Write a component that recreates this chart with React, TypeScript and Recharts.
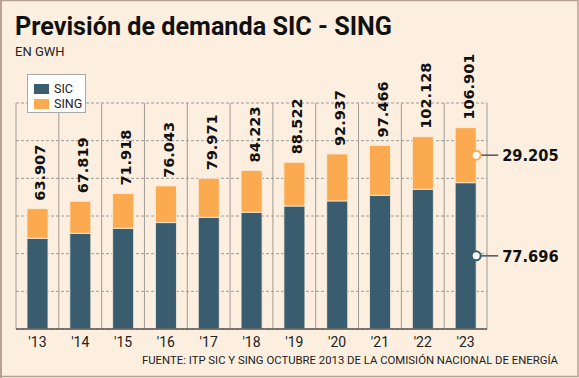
import React from 'react';
import { BarChart, Bar, XAxis, YAxis, CartesianGrid, LabelList } from 'recharts';

const years = ["'13", "'14", "'15", "'16", "'17", "'18", "'19", "'20", "'21", "'22", "'23"];
const sicValues = [48.2, 50.8, 53.5, 56.5, 59.3, 62.0, 65.3, 68.0, 71.0, 74.2, 77.696];
const singValues = [15.7, 17.0, 18.4, 19.5, 20.7, 22.2, 23.2, 24.9, 26.5, 27.9, 29.205];
const totalLabels = ['63.907', '67.819', '71.918', '76.043', '79.971', '84.223', '88.522', '92.937', '97.466', '102.128', '106.901'];
const sicNote = '77.696';
const singNote = '29.205';
const yTicks = [0, 20, 40, 60, 80, 100, 120];

const SIC_COLOR = '#395D6E';
const SING_COLOR = '#FBAA50';
const BG = '#FCEFDF';
const BORDER = '#b5a295';

const series = [
    { name: 'SIC', color: SIC_COLOR },
    { name: 'SING', color: SING_COLOR },
];

const last = years.length - 1;
const data = years.map((year, i) => ({
    year,
    sic: sicValues[i],
    sing: singValues[i],
    totalLabel: totalLabels[i],
    sicNote: i === last ? sicNote : undefined,
    singNote: i === last ? singNote : undefined,
}));

// total above each stacked bar, rotated to read upwards
const TotalLabel = (props: any) => {
    const { x, y, width, value } = props;
    if (value == null) return null;
    const lx = x + width / 2 + 8;
    const ly = y - 8;
    return (
        <text
            x={lx}
            y={ly}
            transform={`rotate(-90 ${lx} ${ly})`}
            textAnchor="start"
            fontFamily="'DejaVu Sans', sans-serif"
            fontWeight="bold"
            fontSize={14.5}
            fill="#111"
        >
            {value}
        </text>
    );
};

// callout on the right side of the last bar
const makeNote = (color: string) => (props: any) => {
    const { x, y, width, height, value } = props;
    if (value == null) return null;
    const cx = x + width;
    const cy = y + height / 2;
    return (
        <g>
            <line x1={cx} y1={cy} x2={cx + 22} y2={cy} stroke="#555" strokeWidth={1.5} />
            <circle cx={cx} cy={cy} r={4.5} fill="#fff" stroke={color} strokeWidth={2} />
            <text
                x={cx + 26}
                y={cy + 6}
                fontFamily="'DejaVu Sans Condensed', 'DejaVu Sans', sans-serif"
                fontWeight="bold"
                fontSize={16.3}
                fill="#111"
            >
                {value}
            </text>
        </g>
    );
};

const bandLines = ({ offset }: any) => {
    const n = years.length;
    const pts: number[] = [];
    for (let i = 0; i <= n; i++) pts.push(offset.left + (i * offset.width) / n);
    return pts;
};

const Legend = () => (
    <div
        style={{
            position: 'absolute',
            left: 27,
            top: 74,
            width: 59,
            height: 39,
            boxSizing: 'border-box',
            background: '#fff',
            border: '1px solid #a9a9a9',
            padding: '6px 0 0 6px',
            fontFamily: 'Roboto, sans-serif',
            fontSize: 12.5,
            color: '#222',
        }}
    >
        {series.map((s) => (
            <div key={s.name} style={{ display: 'flex', alignItems: 'center', height: 15 }}>
                <span style={{ width: 15, height: 10, background: s.color, marginRight: 5 }} />
                {s.name}
            </div>
        ))}
    </div>
);

export default function App() {
    return (
        <div
            style={{
                position: 'absolute',
                left: 0,
                top: 0,
                width: 579,
                height: 378,
                background: BG,
                overflow: 'hidden',
            }}
        >
            <div style={{ position: 'absolute', left: 0, top: 0 }}>
                <BarChart
                    width={579}
                    height={378}
                    data={data}
                    margin={{ top: 103, right: 92, bottom: 29, left: 16 }}
                    barSize={21}
                >
                    <CartesianGrid horizontal vertical={false} stroke="#9a9a9a" strokeDasharray="3 2" fill="none" />
                    <CartesianGrid
                        horizontal={false}
                        vertical
                        verticalCoordinatesGenerator={bandLines}
                        stroke="#a09a94"
                        fill="none"
                    />
                    <YAxis hide domain={[0, 120]} ticks={yTicks} />
                    <XAxis
                        dataKey="year"
                        height={20}
                        tickLine={false}
                        axisLine={{ stroke: '#555', strokeWidth: 1.5 }}
                        interval={0}
                        tick={{ fill: '#222', fontSize: 14, fontFamily: 'Roboto, sans-serif' }}
                    />
                    <Bar dataKey="sic" stackId="a" fill={SIC_COLOR} stroke={BG} strokeWidth={0.8} isAnimationActive={false}>
                        <LabelList dataKey="sicNote" content={makeNote(SIC_COLOR)} />
                    </Bar>
                    <Bar dataKey="sing" stackId="a" fill={SING_COLOR} stroke={BG} strokeWidth={0.8} isAnimationActive={false}>
                        <LabelList dataKey="totalLabel" content={TotalLabel} />
                        <LabelList dataKey="singNote" content={makeNote(SING_COLOR)} />
                    </Bar>
                </BarChart>
            </div>
            <svg width={579} height={378} style={{ position: 'absolute', left: 0, top: 0, pointerEvents: 'none' }}>
                <rect x={1} y={0.5} width={577} height={376} fill="none" stroke={BORDER} strokeWidth={1.5} />
                <line x1={1} y1={0} x2={1} y2={378} stroke={BORDER} strokeWidth={2} />
                <text x={15} y={35} fontFamily="Roboto, sans-serif" fontWeight="bold" fontSize={25} fill="#111" textLength={377} lengthAdjust="spacingAndGlyphs">
                    Previsión de demanda SIC - SING
                </text>
                <text x={15} y={56} fontFamily="Roboto, sans-serif" fontSize={13} fill="#222">
                    EN GWH
                </text>
                <text x={142} y={364} fontFamily="Roboto, sans-serif" fontSize={11.4} fill="#222" textLength={416} lengthAdjust="spacingAndGlyphs">
                    FUENTE: ITP SIC Y SING OCTUBRE 2013 DE LA COMISIÓN NACIONAL DE ENERGÍA
                </text>
            </svg>
            <Legend />
        </div>
    );
}
